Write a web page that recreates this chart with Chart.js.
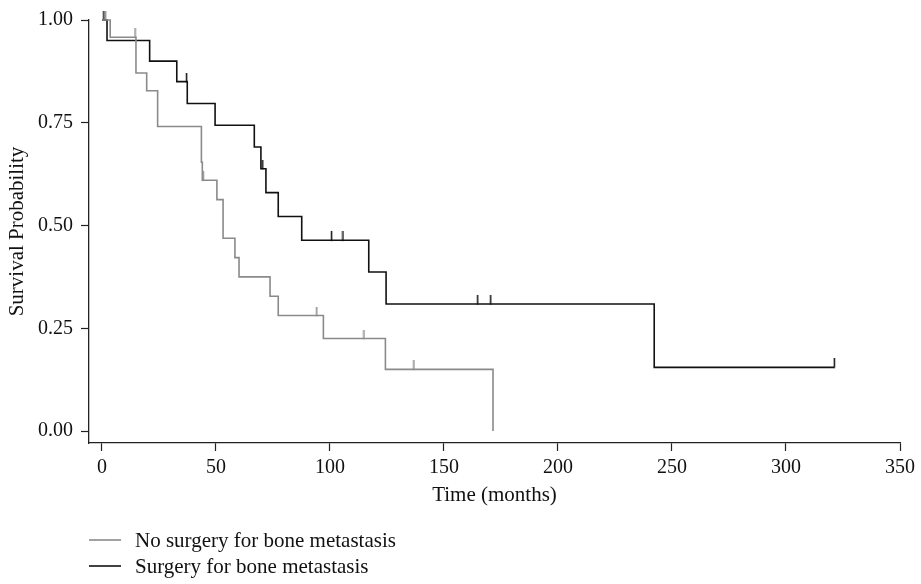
<!DOCTYPE html>
<html><head><meta charset="utf-8">
<script src="https://cdn.jsdelivr.net/npm/chart.js@4.4.1/dist/chart.umd.min.js"></script>
<style>html,body{margin:0;padding:0;background:#fff;} #wrap{width:921px;height:584px;position:relative;}</style>
</head><body><div id="wrap"><canvas id="c" width="921" height="584" style="width:921px;height:584px;"></canvas></div>
<script>
// ---- data ----
const seriesNames = ['No surgery for bone metastasis', 'Surgery for bone metastasis'];
const noSurgTime = [0, 3.6, 14.9, 19.6, 24.4, 43.6, 44.0, 50.4, 53.1, 58.3, 60.1, 73.7, 77.3, 97.1, 124.3, 171.5];
const noSurgSurv = [1, 0.958, 0.871, 0.828, 0.741, 0.654, 0.610, 0.563, 0.469, 0.422, 0.375, 0.328, 0.281, 0.225, 0.150, 0];
const noSurgCensTime = [1.6, 14.5, 44.4, 94.2, 114.9, 136.8];
const noSurgCensSurv = [1, 0.958, 0.610, 0.281, 0.225, 0.150];
const surgTime = [0, 2.2, 20.9, 32.8, 37.4, 49.6, 66.8, 69.7, 71.9, 77.3, 87.6, 117.0, 124.6, 242.2, 321.2];
const surgSurv = [1, 0.95, 0.90, 0.85, 0.797, 0.744, 0.691, 0.638, 0.580, 0.522, 0.464, 0.387, 0.309, 0.155, 0.155];
const surgCensTime = [0.8, 37.1, 70.5, 100.7, 105.7, 164.8, 170.5, 321.2];
const surgCensSurv = [1, 0.85, 0.638, 0.464, 0.464, 0.309, 0.309, 0.155];
const xTicks = [0, 50, 100, 150, 200, 250, 300, 350];
const xTickLabels = ['0', '50', '100', '150', '200', '250', '300', '350'];
const yTicks = [0, 0.25, 0.5, 0.75, 1];
const yTickLabels = ['0.00', '0.25', '0.50', '0.75', '1.00'];
const xTitle = 'Time (months)';
const yTitle = 'Survival Probability';

// ---- styles ----
const GRAY = '#8a8a8a', BLACK = '#111111', AXIS = '#222222';
const FONT = "'Liberation Serif', 'Times New Roman', serif";
function censorMark(color) {
  const c = document.createElement('canvas');
  c.width = 3; c.height = 18;
  const g = c.getContext('2d');
  g.strokeStyle = color; g.lineWidth = 1.5;
  g.beginPath(); g.moveTo(1.5, 0); g.lineTo(1.5, 9.5); g.stroke();
  return c;
}
const pts = (xs, ys) => xs.map((x, i) => ({x: x, y: ys[i]}));

const legendPlugin = {
  id: 'kmLegend',
  afterDraw(chart) {
    const ctx = chart.ctx;
    const items = [[seriesNames[0], GRAY, 540], [seriesNames[1], BLACK, 566]];
    ctx.save();
    ctx.font = '21px ' + FONT;
    ctx.textBaseline = 'middle';
    ctx.fillStyle = '#111111';
    items.forEach(([t, col, y]) => {
      ctx.strokeStyle = col; ctx.lineWidth = 1.6;
      ctx.beginPath(); ctx.moveTo(89, y); ctx.lineTo(121, y); ctx.stroke();
      ctx.fillText(t, 135, y + 1);
    });
    ctx.restore();
  }
};

new Chart(document.getElementById('c'), {
  type: 'line',
  data: {
    datasets: [
      {label: seriesNames[0], data: pts(noSurgTime, noSurgSurv), borderColor: GRAY, borderWidth: 1.6, stepped: 'before', pointRadius: 0, clip: false, fill: false},
      {label: seriesNames[1], data: pts(surgTime, surgSurv), borderColor: BLACK, borderWidth: 1.6, stepped: 'before', pointRadius: 0, clip: false, fill: false},
      {label: 'cens0', data: pts(noSurgCensTime, noSurgCensSurv), showLine: false, pointStyle: censorMark(GRAY), pointRadius: 5, clip: false},
      {label: 'cens1', data: pts(surgCensTime, surgCensSurv), showLine: false, pointStyle: censorMark(BLACK), pointRadius: 5, clip: false}
    ]
  },
  options: {
    responsive: false,
    animation: false,
    events: [],
    layout: {padding: {top: 19, right: 21, bottom: 71, left: 0}},
    plugins: {legend: {display: false}, tooltip: {enabled: false}},
    scales: {
      x: {
        type: 'linear', min: -5.7, max: 350,
        afterBuildTicks: s => { s.ticks = xTicks.map(v => ({value: v})); },
        afterFit: s => { s.height = 70; },
        ticks: {autoSkip: false, maxRotation: 0, color: '#111111', font: {family: FONT, size: 20}, padding: 5,
                callback: (v, i) => xTickLabels[i]},
        grid: {drawOnChartArea: false, drawTicks: true, tickLength: 8, tickColor: AXIS, tickWidth: 1.2},
        border: {display: true, color: AXIS, width: 1.3},
        title: {display: true, text: xTitle, color: '#111111', font: {family: FONT, size: 21}, padding: {top: 0, bottom: 5}}
      },
      y: {
        type: 'linear', min: -0.0291, max: 1,
        afterBuildTicks: s => { s.ticks = yTicks.map(v => ({value: v})); },
        afterFit: s => { s.width = 89; },
        ticks: {color: '#111111', font: {family: FONT, size: 20}, padding: 8,
                callback: (v, i) => yTickLabels[i]},
        grid: {drawOnChartArea: false, drawTicks: true, tickLength: 8, tickColor: AXIS, tickWidth: 1.2},
        border: {display: true, color: AXIS, width: 1.3},
        title: {display: true, text: yTitle, color: '#111111', font: {family: FONT, size: 21}, padding: {top: 5, bottom: 0}}
      }
    }
  },
  plugins: [legendPlugin]
});
</script></body></html>
